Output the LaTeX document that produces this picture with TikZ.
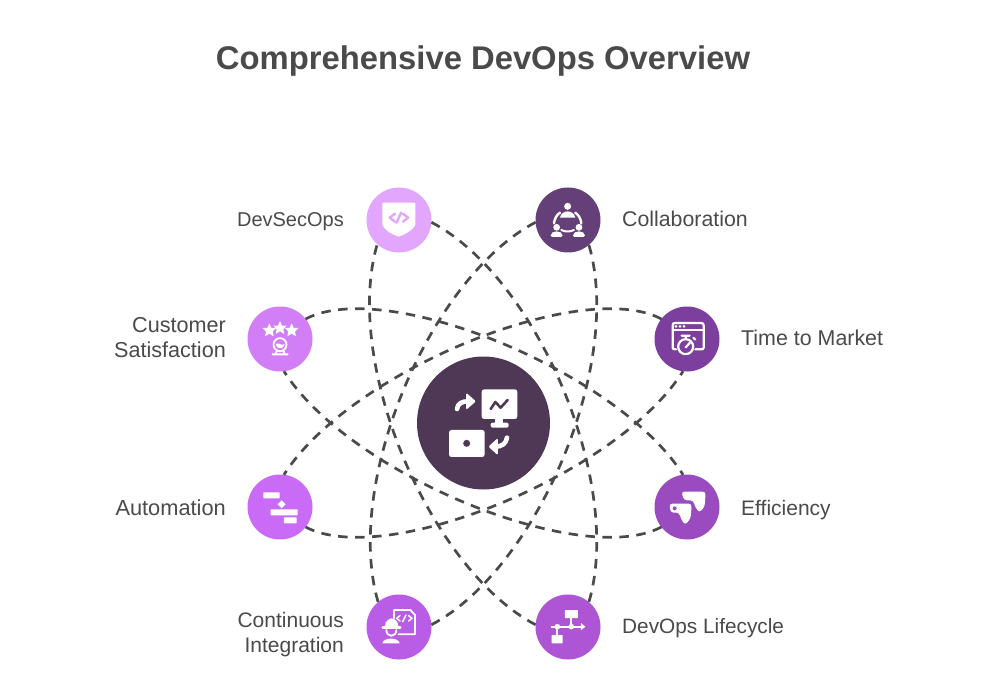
\documentclass[tikz,border=0pt]{standalone}
\usepackage{fontspec}
\setmainfont{Liberation Sans}
\usetikzlibrary{arrows.meta}
\definecolor{ink}{HTML}{4A4A4A}
\definecolor{cCenter}{HTML}{4F3855}
\definecolor{cSec}{HTML}{E2A6FF}
\definecolor{cCol}{HTML}{653F78}
\definecolor{cCust}{HTML}{D27FF7}
\definecolor{cTime}{HTML}{7D3F9E}
\definecolor{cAuto}{HTML}{C96BF6}
\definecolor{cEff}{HTML}{9A4BBF}
\definecolor{cCI}{HTML}{B95CE6}
\definecolor{cLife}{HTML}{AE55D6}
\tikzset{
  hub/.style={circle,minimum size=65pt,inner sep=0pt,line width=0pt},
  lab/.style={text=ink,font=\fontsize{21}{25}\selectfont,inner sep=0pt},
  link/.style={draw=ink,line width=2.7pt,dash pattern=on 9.5pt off 7.5pt},
  ico/.style={fill=white,draw=none},
  icol/.style={draw=white,line width=2pt,line cap=round,line join=round},
  crop/.style 2 args={shift={(#1,#2)},x=0.3333pt,y=-0.3333pt},
}
\begin{document}
\begin{tikzpicture}[x=1pt,y=-1pt]
\useasboundingbox[fill=white] (0,0) rectangle (1000,700);
\node[anchor=base,text=ink,font=\fontsize{32.8}{38}\selectfont\bfseries,inner sep=0pt] (title) at (483,70) {Comprehensive DevOps Overview};

\node[hub,minimum size=133pt,fill=cCenter] (core) at (483.5,423) {};
\node[hub,fill=cSec] (sec) at (399,220) {};
\node[hub,fill=cCol] (col) at (568,220) {};
\node[hub,fill=cCust] (cust) at (280,339) {};
\node[hub,fill=cTime] (time) at (687,339) {};
\node[hub,fill=cAuto] (auto) at (280,507) {};
\node[hub,fill=cEff] (eff) at (687,507) {};
\node[hub,fill=cCI] (ci) at (399,627) {};
\node[hub,fill=cLife] (life) at (568,627) {};

% orbit arcs
\draw[link] (sec.-4) .. controls +(105,55) and +(35,-120) .. (life.50);
\draw[link] (life.176) .. controls +(-105,-55) and +(-35,120) .. (sec.228);
\draw[link] (col.184) .. controls +(-105,55) and +(-35,-120) .. (ci.130);
\draw[link] (ci.4) .. controls +(105,-55) and +(35,120) .. (col.310);
\draw[link] (cust.38) .. controls +(79,-42) and +(-66,-104) .. (eff.97);
\draw[link] (eff.218) .. controls +(-79,42) and +(66,104) .. (cust.277);
\draw[link] (time.142) .. controls +(-79,-42) and +(66,-104) .. (auto.83);
\draw[link] (auto.322) .. controls +(79,42) and +(-66,104) .. (time.263);

\node[lab,anchor=base east,font=\fontsize{20}{25}\selectfont] (lsec) at (344,227) {DevSecOps};
\node[lab,anchor=base west,font=\fontsize{21.3}{25}\selectfont] (lcol) at (622,227) {Collaboration};
\node[lab,anchor=east,align=right,font=\fontsize{21.6}{25}\selectfont] (lcust) at (226,338) {Customer\\Satisfaction};
\node[lab,anchor=base west,font=\fontsize{21.4}{25}\selectfont] (ltime) at (741,345) {Time to Market};
\node[lab,anchor=base east,font=\fontsize{21.8}{25}\selectfont] (lauto) at (226,515) {Automation};
\node[lab,anchor=base west] (leff) at (741,515) {Efficiency};
\node[lab,anchor=east,align=right] (lci) at (344,635) {Continuous\\Integration};
\node[lab,anchor=base west,font=\fontsize{20.8}{25}\selectfont] (llife) at (622,633) {DevOps Lifecycle};

% centre icon
\begin{scope}[crop={400}{340}]
 \fill[ico,rounded corners=2.5pt] (245,148) rectangle (352,237);
 \fill[ico] (285,235) rectangle (308,252);
 \fill[ico,rounded corners=2pt] (272,248) rectangle (326,263);
 \draw[draw=cCenter,line width=2.6pt,line join=round,line cap=round] (272,207) -- (286,186) -- (302,203) -- (323,180);
 \fill[ico,rounded corners=2.5pt] (147,270) rectangle (254,351);
 \fill[cCenter] (200,310) circle (3.5pt);
 \draw[draw=white,line width=4.6pt,line cap=round] (171,207) .. controls (173,190) and (187,184) .. (204,184);
 \fill[ico,rounded corners=1.5pt] (198,158) -- (228,184) -- (198,210) -- cycle;
 \draw[draw=white,line width=4.6pt,line cap=round] (321,293) .. controls (319,310) and (305,320) .. (288,320);
 \fill[ico,rounded corners=1.5pt] (294,294) -- (265,320) -- (294,346) -- cycle;
\end{scope}
% DevSecOps icon
\begin{scope}[crop={340}{170}]
 \fill[ico,rounded corners=1pt] (127,98) -- (226,98) -- (226,165) .. controls (215,183) and (195,193) .. (176,200) .. controls (157,193) and (137,183) .. (127,165) -- cycle;
 \draw[draw=cSec,line width=2.4pt,line cap=round,line join=round] (165,131) -- (149,143) -- (165,155) (189,131) -- (204,143) -- (189,155) (170,158) -- (183,128);
\end{scope}
% Collaboration icon
\begin{scope}[crop={340}{170}]
 \fill[ico] (683,109) circle (3.5pt);
 \draw[icol,line width=2.4pt] (660,128) .. controls (650,134) and (643,148) .. (642,160) (706,128) .. controls (716,134) and (723,148) .. (724,160);
 \fill[ico] (660,143) .. controls (665,118) and (701,118) .. (706,143) -- cycle;
 \draw[icol] (664,180) .. controls (675,186) and (691,186) .. (702,180);
 \fill[ico] (650,172) circle (3.4pt) (717,172) circle (3.4pt);
 \fill[ico,rounded corners=1.5pt] (632,201) .. controls (632,180) and (668,180) .. (668,201) -- cycle;
 \fill[ico,rounded corners=1.5pt] (699,201) .. controls (699,180) and (735,180) .. (735,201) -- cycle;
\end{scope}
% Customer satisfaction icon
\begin{scope}[crop={235}{295}]
 \foreach \sx/\sy in {103/105,135/98,170/105}{
  \fill[ico] (\sx,\sy-20) -- (\sx+6,\sy-6) -- (\sx+20,\sy-6) -- (\sx+10,\sy+5) -- (\sx+13,\sy+19) -- (\sx,\sy+11) -- (\sx-13,\sy+19) -- (\sx-10,\sy+5) -- (\sx-20,\sy-6) -- (\sx-6,\sy-6) -- cycle;}
 \draw[icol,line width=1.8pt] (135,149) circle (6.5pt);
 \fill[ico] (122,147) .. controls (132,141) and (140,155) .. (149,147) .. controls (148,164) and (123,164) .. (122,147) -- cycle;
 \draw[icol] (113,178) -- (158,178) (125,168) -- (122,178) (146,168) -- (149,178);
\end{scope}
% Time to market icon
\begin{scope}[crop={640}{295}]
 \draw[icol,line width=2.2pt] (98,158) -- (98,92) .. controls (98,85) and (100,84) .. (106,84) -- (183,84) .. controls (189,84) and (191,86) .. (191,92) -- (191,158) .. controls (191,162) and (188,163) .. (183,163) -- (166,163) (98,158) .. controls (98,162) and (100,163) .. (108,163);
 \draw[icol,line width=2.2pt] (98,105) -- (191,105);
 \fill[ico] (108,94) circle (1.5pt) (120,94) circle (1.5pt) (132,94) circle (1.5pt);
 \draw[icol,line width=2.2pt] (137,155) circle (7.5pt);
 \draw[icol,line width=2.2pt] (125,122) -- (149,122) (137,122) -- (137,132) (137,157) -- (150,143) (160,128) -- (166,134);
\end{scope}
% Automation icon
\begin{scope}[crop={235}{465}]
 \fill[ico,rounded corners=0.5pt] (85,82) rectangle (134,100);
 \fill[ico] (140,106) -- (152,118) -- (140,130) -- (128,118) -- cycle;
 \fill[ico,rounded corners=0.5pt] (107,133) rectangle (188,151);
 \fill[ico,rounded corners=0.5pt] (147,157) rectangle (185,175);
\end{scope}
% Efficiency icon
\begin{scope}[crop={640}{465}]
 \fill[ico,rounded corners=3pt] (124,80) -- (197,80) -- (194,125) -- (178,143) -- (165,125) -- (160,106) -- (132,106) -- cycle;
 \fill[ico,rounded corners=3pt] (88,116) -- (155,116) -- (152,160) -- (135,180) -- (122,160) -- (118,143) -- (92,143) -- cycle;
 \fill[cEff] (104,130) circle (2pt);
\end{scope}
% CI icon
\begin{scope}[crop={355}{585}]
 \draw[icol,line width=1.8pt] (117,100) -- (117,75) -- (166,75) -- (180,90) -- (180,148) -- (130,148);
 \draw[icol,line width=1.5pt] (135,92) -- (125,100) -- (135,108) (161,92) -- (171,100) -- (161,108) (143,110) -- (153,90);
 \fill[ico] (90,126) .. controls (90,108) and (100,102) .. (110,100) .. controls (122,102) and (130,110) .. (130,126) -- cycle;
 \draw[icol,line width=2.4pt] (83,128) -- (136,128);
 \draw[icol,line width=1.8pt] (94,135) .. controls (94,158) and (124,158) .. (124,135);
 \fill[ico] (82,175) .. controls (84,156) and (132,156) .. (134,175) -- cycle;
\end{scope}
% Lifecycle icon
\begin{scope}[crop={355}{585}]
 \fill[ico,rounded corners=0.5pt] (630,75) rectangle (669,99);
 \fill[ico,rounded corners=0.5pt] (590,150) rectangle (623,175);
 \draw[icol,line width=1.8pt] (649,99) -- (649,125) (590,125) -- (680,125) (607,125) -- (607,150);
 \fill[ico] (678,114) -- (691,125) -- (678,136) -- cycle;
 \fill[ico] (607,125) circle (2.8pt) (649,125) circle (2.8pt);
\end{scope}
\end{tikzpicture}
\end{document}
